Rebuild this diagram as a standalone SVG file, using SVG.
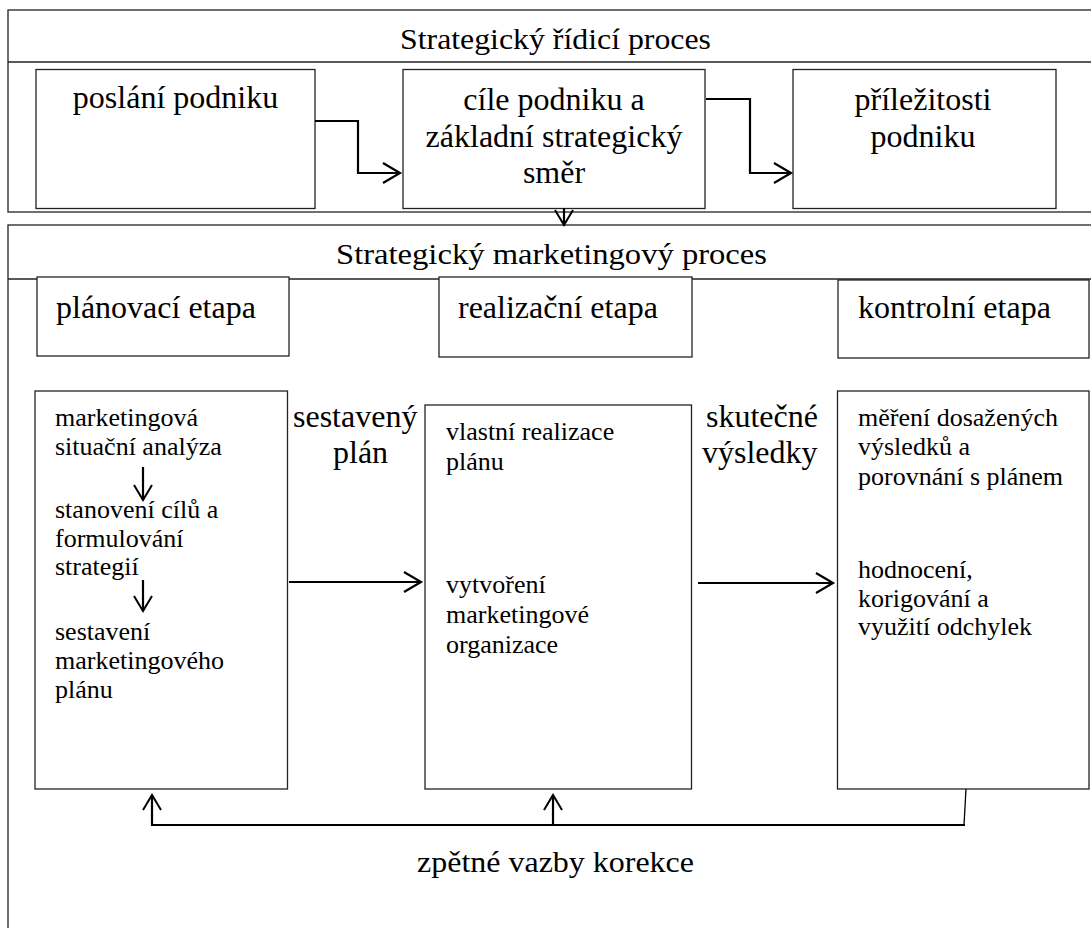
<svg xmlns="http://www.w3.org/2000/svg" width="1091" height="928" viewBox="0 0 1091 928">
<style>
.box{fill:#fff;stroke:#222;stroke-width:1.3}
.frame{fill:none;stroke:#222;stroke-width:1.3}
.conn{fill:none;stroke:#000;stroke-width:2.2}
.thin{fill:none;stroke:#000;stroke-width:1.3}
.t{font-family:"Liberation Serif",serif;fill:#000}
.big{font-size:32px}
.sm{font-size:26px}
.hd{font-size:29px}
.mid{text-anchor:middle}
</style>
<defs>
<marker id="arr" markerUnits="userSpaceOnUse" viewBox="-20 -12 22 24" markerWidth="22" markerHeight="24" refX="0" refY="0" orient="auto" overflow="visible">
<path d="M-17,-10 L0,0 L-17,10" fill="none" stroke="#000" stroke-width="2.2"/>
</marker>
<marker id="arrs" markerUnits="userSpaceOnUse" viewBox="-18 -12 20 24" markerWidth="20" markerHeight="24" refX="0" refY="0" orient="auto" overflow="visible">
<path d="M-15,-9 L0,0 L-15,9" fill="none" stroke="#000" stroke-width="2"/>
</marker>
</defs>
<rect width="1091" height="928" fill="#fff"/>
<g id="section-strategic">
<rect class="frame" x="8" y="10" width="1100" height="202"/>
<line class="frame" x1="8" y1="62" x2="1091" y2="62"/>
<text class="t hd" font-family="Liberation Serif" x="400" y="49" textLength="311" lengthAdjust="spacingAndGlyphs">Strategický řídicí proces</text>
</g>

<g id="section-marketing">
<rect class="frame" x="8" y="225" width="1100" height="720"/>
<line class="frame" x1="8" y1="279" x2="1091" y2="279"/>
<text class="t hd" font-family="Liberation Serif" x="336" y="264" textLength="431" lengthAdjust="spacingAndGlyphs">Strategický marketingový proces</text>
</g>

<g id="node-poslani">
<rect class="box" x="36" y="69.5" width="279" height="139"/>
<text class="t big mid" font-family="Liberation Serif" x="175.5" y="108">poslání podniku</text>
</g>

<g id="node-cile">
<rect class="box" x="403" y="69.5" width="302" height="139"/>
<text class="t big mid" font-family="Liberation Serif" x="554" y="110">cíle podniku a</text>
<text class="t big mid" font-family="Liberation Serif" x="554" y="147">základní strategický</text>
<text class="t big mid" font-family="Liberation Serif" x="554" y="183">směr</text>
</g>

<g id="node-prilezitosti">
<rect class="box" x="793" y="69.5" width="263" height="139"/>
<text class="t big mid" font-family="Liberation Serif" x="923" y="110">příležitosti</text>
<text class="t big mid" font-family="Liberation Serif" x="923" y="147">podniku</text>
</g>

<g id="node-planovaci">
<rect class="box" x="37" y="277" width="252" height="79"/>
<text class="t big" font-family="Liberation Serif" x="56" y="318">plánovací etapa</text>
</g>

<g id="node-realizacni">
<rect class="box" x="439" y="277" width="253" height="80"/>
<text class="t big" font-family="Liberation Serif" x="458" y="318">realizační etapa</text>
</g>

<g id="node-kontrolni">
<rect class="box" x="838" y="280" width="251" height="78"/>
<text class="t big" font-family="Liberation Serif" x="858" y="318">kontrolní etapa</text>
</g>

<g id="node-plan-box">
<rect class="box" x="35" y="391" width="252.5" height="398"/>
<text class="t sm" font-family="Liberation Serif" x="55" y="426">marketingová</text>
<text class="t sm" font-family="Liberation Serif" x="55" y="455">situační analýza</text>
<text class="t sm" font-family="Liberation Serif" x="55" y="518">stanovení cílů a</text>
<text class="t sm" font-family="Liberation Serif" x="55" y="547">formulování</text>
<text class="t sm" font-family="Liberation Serif" x="55" y="575">strategií</text>
<text class="t sm" font-family="Liberation Serif" x="55" y="640">sestavení</text>
<text class="t sm" font-family="Liberation Serif" x="55" y="669">marketingového</text>
<text class="t sm" font-family="Liberation Serif" x="55" y="698">plánu</text>
</g>

<g id="node-real-box">
<rect class="box" x="425" y="405" width="266.5" height="384"/>
<text class="t sm" font-family="Liberation Serif" x="446" y="440">vlastní realizace</text>
<text class="t sm" font-family="Liberation Serif" x="446" y="470">plánu</text>
<text class="t sm" font-family="Liberation Serif" x="446" y="593">vytvoření</text>
<text class="t sm" font-family="Liberation Serif" x="446" y="623">marketingové</text>
<text class="t sm" font-family="Liberation Serif" x="446" y="653">organizace</text>
</g>

<g id="node-kontrol-box">
<rect class="box" x="837.5" y="391" width="251.5" height="398"/>
<text class="t sm" font-family="Liberation Serif" x="858" y="426">měření dosažených</text>
<text class="t sm" font-family="Liberation Serif" x="858" y="455">výsledků a</text>
<text class="t sm" font-family="Liberation Serif" x="858" y="485">porovnání s plánem</text>
<text class="t sm" font-family="Liberation Serif" x="858" y="578">hodnocení,</text>
<text class="t sm" font-family="Liberation Serif" x="858" y="607">korigování a</text>
<text class="t sm" font-family="Liberation Serif" x="858" y="635">využití odchylek</text>
</g>

<g id="labels">
<text class="t big" font-family="Liberation Serif" x="293" y="427">sestavený</text>
<text class="t big" font-family="Liberation Serif" x="333" y="463">plán</text>
<text class="t big" font-family="Liberation Serif" x="706" y="427">skutečné</text>
<text class="t big" font-family="Liberation Serif" x="702" y="463">výsledky</text>
<text class="t hd" font-family="Liberation Serif" x="417" y="872" textLength="277" lengthAdjust="spacingAndGlyphs">zpětné vazby korekce</text>
</g>

<g id="connectors">
<polyline class="conn" points="315,121 358,121 358,173 400,173" marker-end="url(#arr)"/>
<polyline class="conn" points="706,99 750,99 750,173 791,173" marker-end="url(#arr)"/>
<line class="conn" x1="564" y1="208" x2="564" y2="225" marker-end="url(#arrs)"/>
<line class="conn" x1="143" y1="467" x2="143" y2="500" marker-end="url(#arrs)"/>
<line class="conn" x1="143" y1="580" x2="143" y2="611" marker-end="url(#arrs)"/>
<line class="conn" x1="289" y1="582" x2="421" y2="582" marker-end="url(#arr)"/>
<line class="conn" x1="698" y1="583" x2="833" y2="583" marker-end="url(#arr)"/>
<line class="thin" x1="966" y1="789" x2="964" y2="825"/>
<line class="conn" x1="151" y1="825" x2="965" y2="825"/>
<line class="conn" x1="152" y1="825" x2="152" y2="795" marker-end="url(#arrs)"/>
<line class="conn" x1="553" y1="825" x2="553" y2="795" marker-end="url(#arrs)"/>
</g>
</svg>
